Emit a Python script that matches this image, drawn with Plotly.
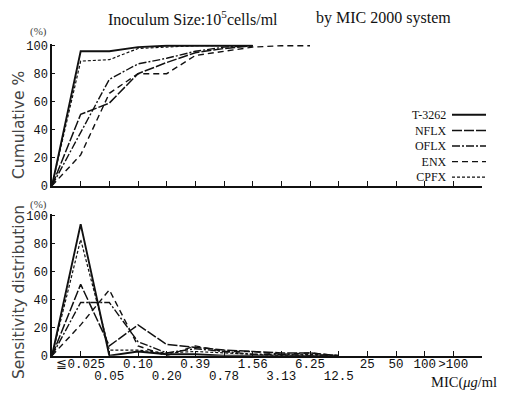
import plotly.graph_objects as go

# ---------------- data ----------------
mic_labels = ["≦0.025", "0.05", "0.10", "0.20", "0.39", "0.78", "1.56", "3.13",
              "6.25", "12.5", "25", "50", "100", ">100"]
drugs = ["T-3262", "NFLX", "OFLX", "ENX", "CPFX"]

# cumulative % (first value = origin)
cum_t3262 = [0, 96, 96, 99, 100, 100, 100, 100]
cum_nflx = [0, 51, 59, 80, 88, 95, 98, 100]
cum_oflx = [0, 38, 76, 87, 91, 96, 99, 100]
cum_enx = [0, 22, 66, 80, 80, 93, 96, 99, 100, 100]
cum_cpfx = [0, 89, 90, 98, 99, 100, 100, 100]

# sensitivity distribution % (first value = origin)
dist_t3262 = [0, 94, 0, 3, 1, 1, 0, 0, 0, 0, 0]
dist_nflx = [0, 51, 7, 22, 8, 6, 4, 3, 2, 2, 0]
dist_oflx = [0, 38, 38, 10, 2, 5, 3, 1, 1, 0, 0]
dist_enx = [0, 22, 47, 7, 0, 7, 3, 3, 1, 2, 0]
dist_cpfx = [0, 83, 4, 4, 2, 3, 2, 1, 0, 1, 0]

y_ticks = [0, 20, 40, 60, 80, 100]

# ---------------- styling ----------------
W, H = 505, 396
OFF = 8  # page body margin offset in the browser
def px(x): return (x - OFF) / W
def py(y): return 1 - (y - OFF) / H

dashes = {"T-3262": "solid", "NFLX": "10px,2px", "OFLX": "8px,2px,2px,2px",
          "ENX": "6px,4px", "CPFX": "3px,2px"}
widths = {"T-3262": 1.9, "NFLX": 1.5, "OFLX": 1.4, "ENX": 1.4, "CPFX": 1.2}
INK = "#111111"
MONO = "Liberation Mono"
SERIF = "Liberation Serif"

cum = dict(zip(drugs, [cum_t3262, cum_nflx, cum_oflx, cum_enx, cum_cpfx]))
dist = dict(zip(drugs, [dist_t3262, dist_nflx, dist_oflx, dist_enx, dist_cpfx]))

fig = go.Figure()
for d in drugs:
    fig.add_trace(go.Scatter(x=list(range(len(cum[d]))), y=cum[d], mode="lines",
                             line=dict(color=INK, width=widths[d], dash=dashes[d]),
                             xaxis="x", yaxis="y", showlegend=False))
    fig.add_trace(go.Scatter(x=list(range(len(dist[d]))), y=dist[d], mode="lines",
                             line=dict(color=INK, width=widths[d], dash=dashes[d]),
                             xaxis="x2", yaxis="y2", showlegend=False))

n_ticks = len(mic_labels) + 1
tickpos = list(range(1, n_ticks + 1))
row1_vals, row1_text, row2_vals, row2_text = [], [], [], []
for i, lab in enumerate(mic_labels):
    if i < 10 and i % 2 == 1:
        row2_vals.append(i + 1); row2_text.append(lab)
    else:
        row1_vals.append(i + 1); row1_text.append(lab)

x_dom = [px(52), px(482)]
x_rng = [0, n_ticks]
y_top = 101
common_x = dict(range=x_rng, domain=x_dom, showline=True, linecolor=INK, linewidth=1.5,
                ticks="inside", ticklen=5, tickwidth=1.3, tickcolor=INK,
                tickvals=tickpos, showticklabels=False,
                showgrid=False, zeroline=False, automargin=False)
label_x = dict(range=x_rng, domain=x_dom, overlaying="x2", anchor="y2", side="bottom",
               showline=False, ticks="", showgrid=False, zeroline=False, automargin=False)
common_y = dict(range=[0, y_top], showline=True, linecolor=INK, linewidth=1.5,
                ticks="inside", ticklen=3, tickwidth=1.2, tickcolor=INK,
                tickvals=y_ticks, ticktext=[str(v) for v in y_ticks],
                tickfont=dict(family=MONO, size=12, color=INK),
                showgrid=False, zeroline=False, ticklabelstandoff=0, automargin=False)

fig.update_layout(
    width=W, height=H, margin=dict(l=0, r=0, t=0, b=0, autoexpand=False),
    paper_bgcolor="white", plot_bgcolor="white",
    xaxis=dict(**common_x, anchor="y"),
    yaxis=dict(**common_y, anchor="x",
               domain=[py(185.7), py(185.7 - y_top * 1.4)]),
    xaxis2=dict(**common_x, anchor="y2"),
    xaxis3=dict(**label_x, tickvals=row1_vals, ticktext=row1_text,
                tickfont=dict(family=MONO, size=12.5, color=INK), ticklabelstandoff=-1),
    xaxis4=dict(**label_x, tickvals=row2_vals, ticktext=row2_text,
                tickfont=dict(family=MONO, size=12.5, color=INK), ticklabelstandoff=11),
    yaxis2=dict(**common_y, anchor="x2",
                domain=[py(355.7), py(355.7 - y_top * 1.4)]),
)
fig.add_trace(go.Scatter(x=[None], y=[None], xaxis="x3", yaxis="y2", showlegend=False))
fig.add_trace(go.Scatter(x=[None], y=[None], xaxis="x4", yaxis="y2", showlegend=False))

ann = []
ann.append(dict(text="Inoculum Size:10<sup>5</sup>cells/ml", x=px(106), y=py(18),
                xanchor="left", yanchor="middle", font=dict(family=SERIF, size=16, color=INK)))
ann.append(dict(text="by MIC 2000 system", x=px(314), y=py(18),
                xanchor="left", yanchor="middle", font=dict(family=SERIF, size=16, color=INK)))
for yy in (32, 204):
    ann.append(dict(text="(%)", x=px(49), y=py(yy), xanchor="right", yanchor="middle",
                    font=dict(family=SERIF, size=11, color="#444")))
ann.append(dict(text="Cumulative %", x=px(19), y=py(125), textangle=-90,
                xanchor="center", yanchor="middle",
                font=dict(family="DejaVu Sans", size=15.5, color="#444")))
ann.append(dict(text="Sensitivity distribution", x=px(19), y=py(292), textangle=-90,
                xanchor="center", yanchor="middle",
                font=dict(family="DejaVu Sans", size=15.5, color="#444")))
ann.append(dict(text="MIC(<i>μg</i>/ml)", x=px(504), y=py(382), xanchor="right",
                yanchor="middle", font=dict(family=SERIF, size=14.5, color=INK)))

# legend: one right-aligned text block, line samples beside each row
leg_size = 12
leg_step = 1.3 * leg_size
leg_center = 146
n = len(drugs)
legend_y = [leg_center + (i - (n - 1) / 2) * leg_step for i in range(n)]
ann.append(dict(text="<br>".join(drugs), x=px(448), y=py(leg_center), xanchor="right",
                yanchor="middle", align="right", borderpad=0,
                font=dict(family=SERIF, size=leg_size, color=INK)))
shapes = []
for d, ly in zip(drugs, legend_y):
    shapes.append(dict(type="line", xref="paper", yref="paper",
                       x0=px(452), x1=px(486), y0=py(ly), y1=py(ly),
                       line=dict(color=INK, width=widths[d], dash=dashes[d])))

for a in ann:
    a.update(xref="paper", yref="paper", showarrow=False)
fig.update_layout(annotations=ann, shapes=shapes)

fig.write_html("out.html")
